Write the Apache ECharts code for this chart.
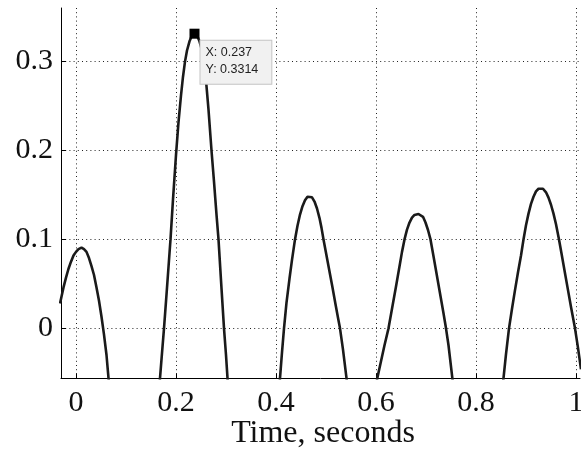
<!DOCTYPE html>
<html>
<head>
<meta charset="utf-8">
<script src="https://cdn.jsdelivr.net/npm/echarts@6/dist/echarts.min.js"></script>
<style>
html,body{margin:0;padding:0;background:#fff;}
#chart{width:581px;height:450px;}
</style>
</head>
<body>
<div id="chart"></div>
<script>
// ---- data ----
const arc1T = [-0.032,-0.025,-0.02,-0.015,-0.01,-0.005,0,0.005,0.011,0.016,0.021,0.026,0.031,0.036,0.041,0.046,0.051,0.056,0.061,0.065,0.07];
const arc1V = [0.028,0.046,0.057,0.067,0.075,0.082,0.086,0.089,0.0907,0.089,0.086,0.079,0.070,0.060,0.046,0.031,0.013,-0.007,-0.030,-0.056,-0.08];

const arc2T = [0.163,0.168,0.172,0.176,0.181,0.185,0.189,0.194,0.200,0.205,0.210,0.214,0.218,0.222,0.227,0.232,0.237,0.242,0.247,0.252,0.256,0.260,0.265,0.271,0.276,0.281,0.285,0.290,0.296,0.300,0.303,0.308];
const arc2V = [-0.09,-0.056,-0.028,0.0,0.038,0.069,0.100,0.145,0.195,0.232,0.262,0.283,0.300,0.3125,0.3228,0.3293,0.3314,0.3293,0.3228,0.3125,0.300,0.279,0.246,0.200,0.165,0.128,0.100,0.054,0.0,-0.030,-0.056,-0.10];

const arc3T = [0.403,0.408,0.412,0.416,0.421,0.427,0.432,0.438,0.443,0.448,0.453,0.458,0.463,0.467,0.472,0.477,0.482,0.487,0.491,0.495,0.501,0.507,0.513,0.519,0.524,0.528,0.534,0.541,0.546];
const arc3V = [-0.09,-0.056,-0.027,0.0,0.029,0.056,0.077,0.100,0.1154,0.128,0.1374,0.144,0.148,0.1488,0.1474,0.1426,0.1348,0.124,0.113,0.100,0.082,0.064,0.046,0.027,0.012,0.0,-0.024,-0.056,-0.08];

const arc4T = [0.597,0.6026,0.610,0.617,0.625,0.632,0.640,0.648,0.652,0.657,0.662,0.667,0.672,0.677,0.681,0.685,0.689,0.694,0.699,0.704,0.709,0.715,0.720,0.725,0.730,0.735,0.740,0.745,0.7527,0.758];
const arc4V = [-0.075,-0.056,-0.037,-0.019,0.0,0.022,0.047,0.073,0.086,0.100,0.111,0.119,0.1245,0.1275,0.1284,0.1286,0.128,0.1254,0.119,0.1106,0.100,0.081,0.065,0.049,0.033,0.017,0.0,-0.019,-0.056,-0.08];

const arc5T = [0.850,0.855,0.860,0.866,0.872,0.878,0.884,0.890,0.895,0.900,0.905,0.910,0.915,0.920,0.925,0.929,0.934,0.940,0.945,0.950,0.955,0.960,0.966,0.972,0.978,0.984,0.990,0.998,1.004,1.010];
const arc5V = [-0.08,-0.056,-0.029,0.0,0.022,0.043,0.063,0.082,0.100,0.116,0.129,0.140,0.148,0.154,0.157,0.158,0.157,0.153,0.147,0.139,0.129,0.117,0.100,0.081,0.062,0.043,0.024,0.0,-0.022,-0.046];

// troughs between the arcs (below the visible range)
const dipT = [0.117,0.355,0.572,0.805];
const dipV = [-0.30,-0.30,-0.20,-0.20];

const xTicks = [0,0.2,0.4,0.6,0.8,1];
const yTicks = [0,0.1,0.2,0.3];
const xLimits = [-0.03,1.008];
const yLimits = [-0.0562,0.3603];

const tipX = 0.237;
const tipY = 0.3314;

// ---- build series data ----
function pairs(t,v){ return t.map((x,i)=>[x,v[i]]); }
const curve = [].concat(
  pairs(arc1T,arc1V), [[dipT[0],dipV[0]]],
  pairs(arc2T,arc2V), [[dipT[1],dipV[1]]],
  pairs(arc3T,arc3V), [[dipT[2],dipV[2]]],
  pairs(arc4T,arc4V), [[dipT[3],dipV[3]]],
  pairs(arc5T,arc5V)
);

const labelFont = {fontFamily:'"Liberation Serif","Times New Roman",serif', fontSize:30, color:'#111'};
const gridLine = {show:true, lineStyle:{color:'#222', width:1, type:[1,3.2]}};

const chart = echarts.init(document.getElementById('chart'), null, {renderer:'canvas'});
chart.setOption({
  animation:false,
  backgroundColor:'#fff',
  grid:{left:61, top:8, right:1, bottom:71.7, containLabel:false, outerBoundsMode:'none'},
  xAxis:{
    type:'value', min:xLimits[0], max:xLimits[1],
    axisLine:{show:true, onZero:false, lineStyle:{color:'#000', width:1}},
    axisTick:{show:true, inside:true, length:5, customValues:xTicks, lineStyle:{color:'#000'}},
    axisLabel:Object.assign({customValues:xTicks, margin:10, formatter:v=>String(v)}, labelFont),
    splitLine:gridLine,
    name:'Time, seconds', nameLocation:'middle', nameGap:39, nameMoveOverlap:false,
    nameTextStyle:Object.assign({}, labelFont, {fontSize:32, padding:[0,0,0,5]})
  },
  yAxis:{
    type:'value', min:yLimits[0], max:yLimits[1],
    axisLine:{show:true, onZero:false, lineStyle:{color:'#000', width:1}},
    axisTick:{show:true, inside:true, length:5, customValues:yTicks, lineStyle:{color:'#000'}},
    axisLabel:Object.assign({customValues:yTicks, margin:8, formatter:v=>String(v)}, labelFont),
    splitLine:gridLine
  },
  series:[
    {
      type:'line', data:curve, showSymbol:false, symbol:'none', clip:true,
      lineStyle:{color:'#1a1a1a', width:2.6}, z:2
    },
    {
      type:'scatter', data:[[tipX,tipY]], symbol:'rect', symbolSize:10,
      itemStyle:{color:'#000', opacity:1}, z:5, clip:false,
      emphasis:{disabled:true},
      label:{
        show:true, position:[11,12], align:'left', verticalAlign:'top',
        formatter:'X: ' + tipX + '\nY: ' + tipY,
        fontFamily:'"Liberation Sans",Arial,sans-serif', fontSize:12.5, lineHeight:16.5,
        color:'#222', backgroundColor:'#f1f1f1', borderColor:'#c4c4c4', borderWidth:1,
        padding:[4,13,6,5], opacity:1
      }
    }
  ]
});
</script>
</body>
</html>
